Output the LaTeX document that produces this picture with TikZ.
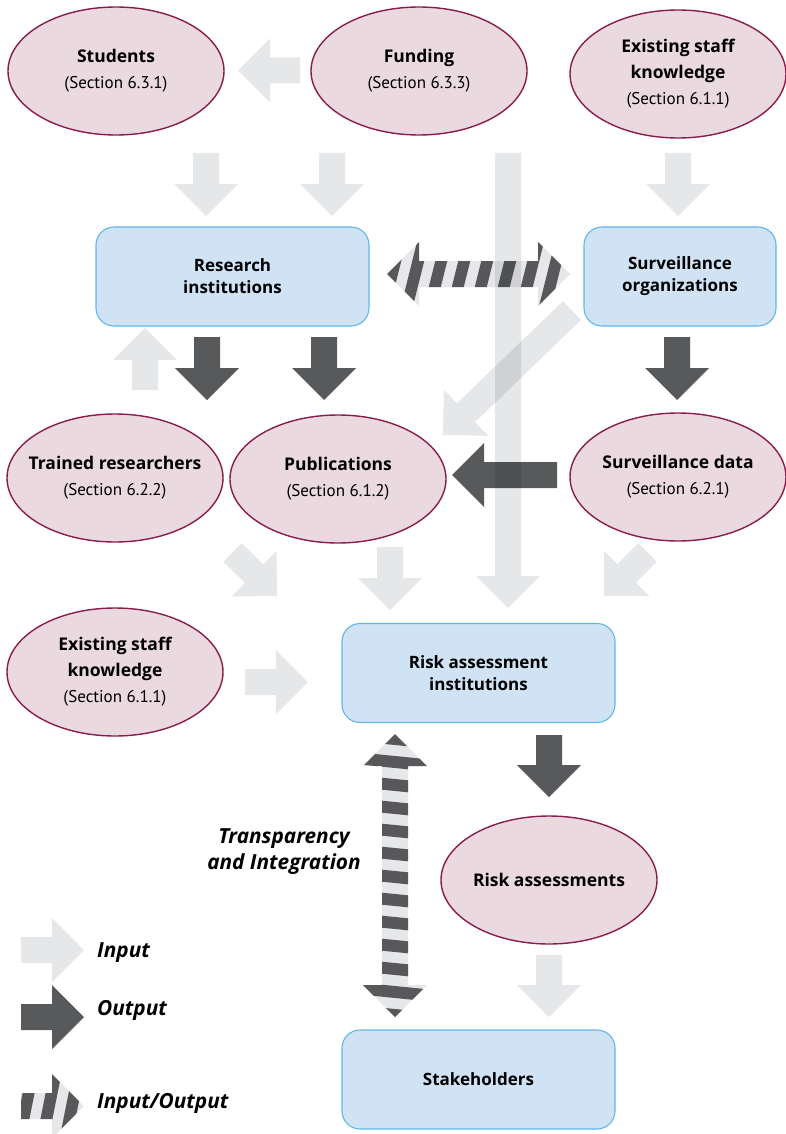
\documentclass[tikz,border=0pt]{standalone}
\usepackage{fontspec}
\setmainfont{PT Sans}
\newfontfamily\headfam{Open Sans}
\usetikzlibrary{shapes.geometric, calc}

\definecolor{ellfill}{HTML}{EAD9DF}
\definecolor{ellline}{HTML}{8A1C4E}
\definecolor{boxfill}{HTML}{CFE3F5}
\definecolor{boxline}{HTML}{62B6E8}
\definecolor{arrlight}{HTML}{E6E7E8}
\definecolor{arrdark}{HTML}{58595B}
\definecolor{stripedark}{HTML}{626264}

\newcommand{\titlefont}{\headfam\fontsize{17.5}{26}\selectfont\bfseries}
\newcommand{\secfont}{\rmfamily\fontsize{17}{26}\selectfont\mdseries}
\newcommand{\boxfont}{\headfam\fontsize{17}{22}\selectfont\bfseries}

% half widths and head length of the block arrows
\newcommand{\shaftw}{13pt}
\newcommand{\headw}{32pt}
\newcommand{\headl}{32pt}

% block arrow from #2 (tail) to #3 (tip)
\newcommand{\blockarrow}[3][inarrow]{%
  \coordinate (ba-h) at ($(#3)!\headl!(#2)$);
  \coordinate (ba-1) at ($(#2)!\shaftw!90:(#3)$);
  \coordinate (ba-2) at ($(ba-h)!\shaftw!-90:(#2)$);
  \coordinate (ba-3) at ($(ba-h)!\headw!-90:(#2)$);
  \coordinate (ba-4) at ($(ba-h)!\headw!90:(#2)$);
  \coordinate (ba-5) at ($(ba-h)!\shaftw!90:(#2)$);
  \coordinate (ba-6) at ($(#2)!\shaftw!-90:(#3)$);
  \fill[#1] (ba-1) -- (ba-2) -- (ba-3) -- (#3) -- (ba-4) -- (ba-5) -- (ba-6) -- cycle;}

% slanted stripes along #2 -> #3, slant #1
\newcommand{\stripes}[3][6pt]{%
  \coordinate (io-far) at ($(#2)!4!(#3)$);
  \foreach \p in {-47,-24,...,320} {
    \fill[fill=stripedark, blend mode=multiply]
      ($(#2)!\p pt+#1!(io-far)!40pt!90:(io-far)$)
      -- ($(#2)!\p pt+#1+12pt!(io-far)!40pt!90:(io-far)$)
      -- ($(#2)!\p pt-#1+12pt!(io-far)!40pt!-90:(io-far)$)
      -- ($(#2)!\p pt-#1!(io-far)!40pt!-90:(io-far)$) -- cycle;
  }}

% double headed striped arrow between #2 and #3
\newcommand{\ioarrow}[3][6pt]{%
  \coordinate (io-a) at ($(#2)!\headl!(#3)$);
  \coordinate (io-b) at ($(#3)!\headl!(#2)$);
  \coordinate (io-1) at ($(io-a)!\headw!90:(#3)$);
  \coordinate (io-2) at ($(io-a)!\shaftw!90:(#3)$);
  \coordinate (io-3) at ($(io-b)!\shaftw!-90:(#2)$);
  \coordinate (io-4) at ($(io-b)!\headw!-90:(#2)$);
  \coordinate (io-5) at ($(io-b)!\headw!90:(#2)$);
  \coordinate (io-6) at ($(io-b)!\shaftw!90:(#2)$);
  \coordinate (io-7) at ($(io-a)!\shaftw!-90:(#3)$);
  \coordinate (io-8) at ($(io-a)!\headw!-90:(#3)$);
  \begin{scope}
    \fill[inarrow] (#2) -- (io-1) -- (io-2) -- (io-3) -- (io-4) -- (#3)
      -- (io-5) -- (io-6) -- (io-7) -- (io-8) -- cycle;
    \clip (#2) -- (io-1) -- (io-2) -- (io-3) -- (io-4) -- (#3)
      -- (io-5) -- (io-6) -- (io-7) -- (io-8) -- cycle;
    \stripes[#1]{#2}{#3}
  \end{scope}}

\begin{document}
\begin{tikzpicture}[
    x=1pt, y=-1pt,
    ell/.style={
        ellipse,
        draw=ellline,
        line width=1.4pt,
        fill=ellfill,
        minimum width=216pt,
        minimum height=128pt,
        inner xsep=-12pt,
        inner ysep=0pt,
        align=center,
        font=\titlefont
    },
    inst/.style={
        rectangle,
        draw=boxline,
        line width=1.1pt,
        rounded corners=18pt,
        fill=boxfill,
        minimum width=273pt,
        minimum height=99pt,
        align=center,
        font=\boxfont
    },
    inarrow/.style={fill=arrlight, blend mode=multiply},
    outarrow/.style={fill=arrdark, blend mode=multiply},
    legtext/.style={font=\headfam\fontsize{20.8}{26}\selectfont\bfseries\itshape, align=center, inner sep=0pt}
]
\useasboundingbox (0,0) rectangle (785,1134);

% Nodes
\node[ell] (students) at (116,71) {Students\\\secfont(Section 6.3.1)};
\node[ell] (funding) at (419,71) {Funding\\\secfont(Section 6.3.3)};
\node[ell] (staff) at (678,74) {Existing staff\\knowledge\\\secfont(Section 6.1.1)};

\node[inst] (research) at (232.5,276.5) {Research\\institutions};
\node[inst, minimum width=192pt] (survorg) at (680,276.5) {Surveillance\\organizations};

\node[ell] (trained) at (115,478) {Trained researchers\\\secfont(Section 6.2.2)};
\node[ell] (pubs) at (338,479) {Publications\\\secfont(Section 6.1.2)};
\node[ell] (survdata) at (678,477) {Surveillance data\\\secfont(Section 6.2.1)};

\node[ell] (staffb) at (115,672) {Existing staff\\knowledge\\\secfont(Section 6.1.1)};
\node[inst] (riskinst) at (478.5,673) {Risk assessment\\institutions};

\node[ell] (riskass) at (549,880) {Risk assessments};
\node[inst] (stake) at (478.5,1079.5) {Stakeholders};

\node[legtext] (transp) at (284,852) {Transparency\\and Integration};

% Arrow ends
\coordinate (fund-l) at (300,70.5);     \coordinate (stu-r) at (238,70.5);
\coordinate (stu-d) at (206,153);       \coordinate (res-n1) at (206,216);
\coordinate (fund-d) at (332,153);      \coordinate (res-n2) at (332,216);
\coordinate (staff-d) at (678,153);     \coordinate (surv-n) at (678,216);
\coordinate (fund-long) at (508,153);   \coordinate (risk-n1) at (508,608);
\coordinate (train-u) at (145,390);     \coordinate (res-s) at (145,328);
\coordinate (surv-sw) at (572,310.5);   \coordinate (pubs-ne) at (443,435);
\coordinate (train-se) at (232.5,552.5); \coordinate (risk-nw) at (277,596);
\coordinate (pubs-d) at (390,547);      \coordinate (risk-n2) at (390,610);
\coordinate (sdata-sw) at (647.5,552.5); \coordinate (risk-ne) at (604,596);
\coordinate (staffb-e) at (245,682);    \coordinate (risk-w) at (308,682);
\coordinate (ra-d) at (549,955);        \coordinate (stake-n) at (549,1017);

\coordinate (res-d1) at (207,337);      \coordinate (res-o1) at (207,400);
\coordinate (res-d2) at (324,337);      \coordinate (res-o2) at (324,400);
\coordinate (surv-d) at (677,337);      \coordinate (surv-o) at (677,400);
\coordinate (sdata-w) at (557,475);     \coordinate (pubs-e) at (452,475);
\coordinate (risk-d) at (549,735);      \coordinate (ra-n) at (549,797);

\coordinate (io-res) at (387,274);      \coordinate (io-surv) at (570,274);
\coordinate (io-risk) at (395,734);     \coordinate (io-stake) at (395,1017);

% Input arrows
\blockarrow{fund-l}{stu-r}
\blockarrow{stu-d}{res-n1}
\blockarrow{fund-d}{res-n2}
\blockarrow{staff-d}{surv-n}
\blockarrow{fund-long}{risk-n1}
\blockarrow{train-u}{res-s}
\blockarrow{surv-sw}{pubs-ne}
\blockarrow{train-se}{risk-nw}
\blockarrow{pubs-d}{risk-n2}
\blockarrow{sdata-sw}{risk-ne}
\blockarrow{staffb-e}{risk-w}
\blockarrow{ra-d}{stake-n}

% Output arrows
\blockarrow[outarrow]{res-d1}{res-o1}
\blockarrow[outarrow]{res-d2}{res-o2}
\blockarrow[outarrow]{surv-d}{surv-o}
\blockarrow[outarrow]{sdata-w}{pubs-e}
\blockarrow[outarrow]{risk-d}{ra-n}

% Input/Output arrows
\ioarrow[10pt]{io-res}{io-surv}
\ioarrow[4pt]{io-risk}{io-stake}

% Legend
\coordinate (leg-in-a) at (21,950);   \coordinate (leg-in-b) at (84,950);
\coordinate (leg-out-a) at (21,1017); \coordinate (leg-out-b) at (84,1017);
\coordinate (leg-io-a) at (21,1106);  \coordinate (leg-io-b) at (84,1106);
\blockarrow{leg-in-a}{leg-in-b}
\blockarrow[outarrow]{leg-out-a}{leg-out-b}
\begin{scope}
  \blockarrow{leg-io-a}{leg-io-b}
  \clip (ba-1) -- (ba-2) -- (ba-3) -- (leg-io-b) -- (ba-4) -- (ba-5) -- (ba-6) -- cycle;
  \stripes[8pt]{leg-io-a}{leg-io-b}
\end{scope}
\node[legtext, anchor=west] (lin) at (97,953) {Input};
\node[legtext, anchor=west] (lout) at (97,1010) {Output};
\node[legtext, anchor=west] (lio) at (97,1103) {Input/Output};

\end{tikzpicture}
\end{document}
